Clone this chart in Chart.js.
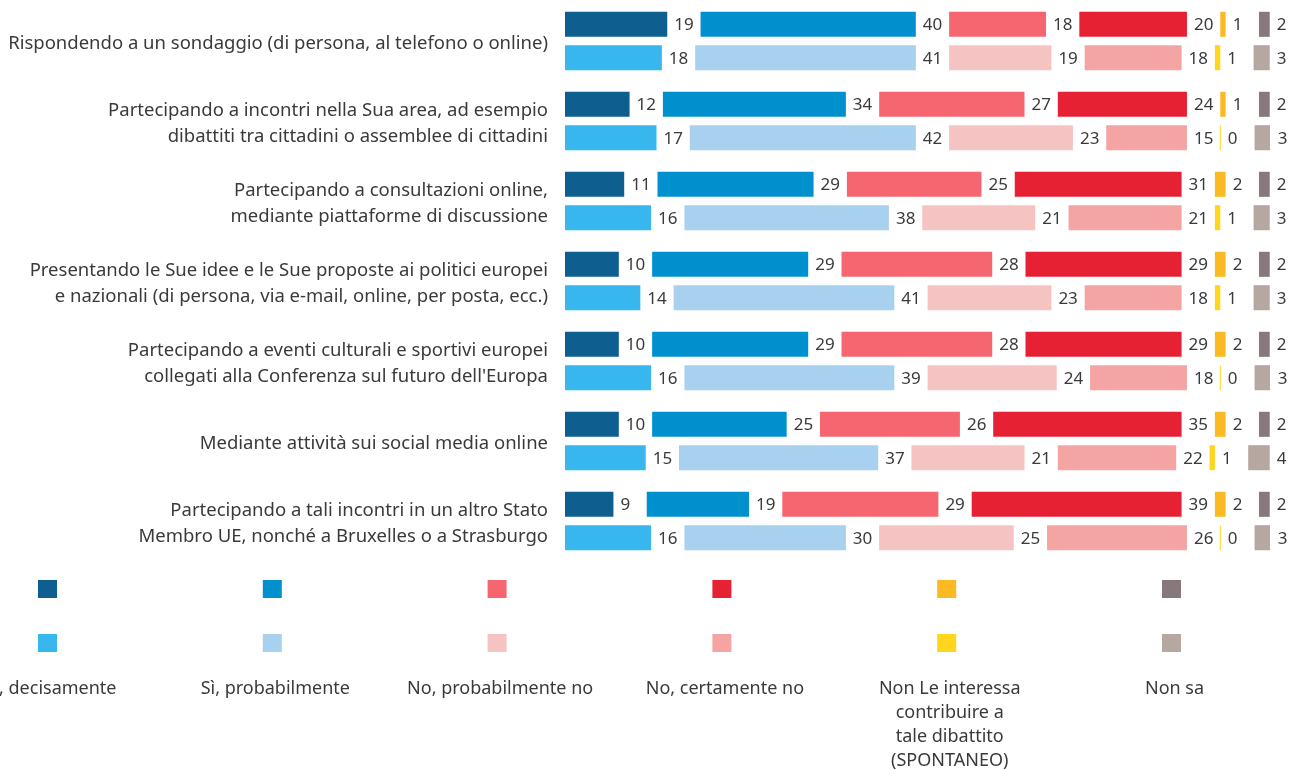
<!DOCTYPE html>
<html>
<head>
<meta charset="utf-8">
<script src="https://cdn.jsdelivr.net/npm/chart.js@4.4.1/dist/chart.umd.min.js"></script>
<style>
  body { margin: 0; background: #fff; }
  #chart { display: block; }
</style>
</head>
<body>
<canvas id="chart" width="1289" height="770"></canvas>
<script>
const categories = [
    ["Rispondendo a un sondaggio (di persona, al telefono o online)"],
    ["Partecipando a incontri nella Sua area, ad esempio", "dibattiti tra cittadini o assemblee di cittadini"],
    ["Partecipando a consultazioni online,", "mediante piattaforme di discussione"],
    ["Presentando le Sue idee e le Sue proposte ai politici europei", "e nazionali (di persona, via e-mail, online, per posta, ecc.)"],
    ["Partecipando a eventi culturali e sportivi europei", "collegati alla Conferenza sul futuro dell'Europa"],
    ["Mediante attività sui social media online"],
    ["Partecipando a tali incontri in un altro Stato", "Membro UE, nonché a Bruxelles o a Strasburgo"]
];

const answers = [
    ["Sì, decisamente"],
    ["Sì, probabilmente"],
    ["No, probabilmente no"],
    ["No, certamente no"],
    ["Non Le interessa", "contribuire a", "tale dibattito", "(SPONTANEO)"],
    ["Non sa"]
];

// first row of each pair (dark colours)
const waveA = [
    [19, 12, 11, 10, 10, 10, 9],   // Sì, decisamente
    [40, 34, 29, 29, 29, 25, 19],  // Sì, probabilmente
    [18, 27, 25, 28, 28, 26, 29],  // No, probabilmente no
    [20, 24, 31, 29, 29, 35, 39],  // No, certamente no
    [1, 1, 2, 2, 2, 2, 2],         // Non Le interessa
    [2, 2, 2, 2, 2, 2, 2]          // Non sa
];

// second row of each pair (light colours)
const waveB = [
    [18, 17, 16, 14, 16, 15, 16],
    [41, 42, 38, 41, 39, 37, 30],
    [19, 23, 21, 23, 24, 21, 25],
    [18, 15, 21, 18, 18, 22, 26],
    [1, 0, 1, 1, 0, 1, 0],
    [3, 3, 3, 3, 3, 4, 3]
];

const darkColors = ["#0e5e8f", "#0090cd", "#f66670", "#e52133", "#fbb924", "#87787b"];
const lightColors = ["#38b6ee", "#a8d0ef", "#f5c3c1", "#f4a4a2", "#ffd51d", "#b6a8a0"];

const GAP = 6.19;          // empty space between segments (room for the value)
const FONT = "Noto Sans";
const TEXT = "#3a3a3a";

function buildDatasets() {
    const sets = [];
    [[waveA, darkColors, "a"], [waveB, lightColors, "b"]].forEach(([wave, colors, stack]) => {
        wave.forEach((values, k) => {
            sets.push({
                label: answers[k].join(" "),
                data: values,
                backgroundColor: colors[k],
                borderWidth: 0,
                minBarLength: 1,
                stack: stack,
                isValue: true
            });
            if (k < wave.length - 1) {
                sets.push({
                    label: "",
                    data: values.map(() => GAP),
                    backgroundColor: "rgba(0,0,0,0)",
                    borderWidth: 0,
                    stack: stack,
                    isValue: false
                });
            }
        });
    });
    return sets;
}

const valueLabels = {
    id: "valueLabels",
    afterDatasetsDraw(chart) {
        const ctx = chart.ctx;
        ctx.save();
        ctx.font = `17px "${FONT}"`;
        ctx.fillStyle = TEXT;
        ctx.textAlign = "left";
        ctx.textBaseline = "middle";
        chart.data.datasets.forEach((ds, i) => {
            if (!ds.isValue) return;
            chart.getDatasetMeta(i).data.forEach((bar, j) => {
                ctx.fillText(String(ds.data[j]), bar.x + 7, bar.y + 1);
            });
        });
        ctx.restore();
    }
};

const bottomLegend = {
    id: "bottomLegend",
    afterDraw(chart) {
        const ctx = chart.ctx;
        ctx.save();
        const pitch = 224.8;
        answers.forEach((lines, k) => {
            const cx = 47.5 + k * pitch;
            ctx.fillStyle = darkColors[k];
            ctx.fillRect(cx - 9.5, 580, 19, 18);
            ctx.fillStyle = lightColors[k];
            ctx.fillRect(cx - 9.5, 634, 19, 18);
            ctx.fillStyle = TEXT;
            ctx.font = `18px "${FONT}"`;
            ctx.textAlign = "center";
            ctx.textBaseline = "middle";
            lines.forEach((line, n) => {
                ctx.fillText(line, cx + 3, 689 + n * 24);
            });
        });
        ctx.restore();
    }
};

new Chart(document.getElementById("chart"), {
    type: "bar",
    data: {
        labels: categories,
        datasets: buildDatasets()
    },
    options: {
        indexAxis: "y",
        responsive: false,
        animation: false,
        categoryPercentage: 0.835,
        barPercentage: 0.75,
        layout: { padding: { top: 1, bottom: 209, left: 0, right: 19 } },
        scales: {
            x: {
                stacked: true,
                display: false,
                min: 0,
                max: 131
            },
            y: {
                stacked: true,
                grid: { display: false, drawTicks: false },
                border: { display: false },
                ticks: {
                    padding: 17,
                    labelOffset: 2.5,
                    color: TEXT,
                    font: { family: FONT, size: 18.5, lineHeight: 1.4 }
                },
                afterFit(scale) {
                    scale.width = 565;
                    scale.paddingTop = 0;
                    scale.paddingBottom = 0;
                }
            }
        },
        plugins: {
            legend: { display: false },
            tooltip: { enabled: false }
        }
    },
    plugins: [valueLabels, bottomLegend]
});
</script>
</body>
</html>
